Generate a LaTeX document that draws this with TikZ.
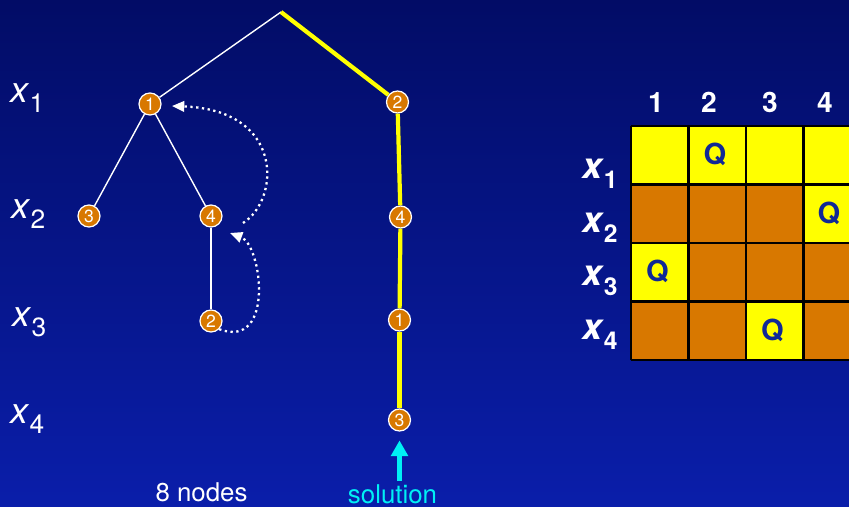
\documentclass[tikz,border=0pt]{standalone}
\usepackage{fontspec}
\setmainfont{TeX Gyre Heros}
\usepackage{tikz}
\usetikzlibrary{arrows.meta}
\definecolor{slidetop}{RGB}{2,12,102}
\definecolor{slidebot}{RGB}{10,30,170}
\definecolor{nodeorange}{RGB}{216,120,0}
\definecolor{cellyellow}{RGB}{255,255,0}
\definecolor{queenblue}{RGB}{16,40,150}
\definecolor{solcyan}{RGB}{0,240,245}
\tikzstyle{treenode}=[circle, fill=nodeorange, draw=white, line width=0.7pt, minimum size=0.44cm, inner sep=0pt, text=white, font=\fontsize{10}{10}\selectfont]
\tikzstyle{branch}=[draw=white, line width=0.8pt]
\tikzstyle{solpath}=[draw=cellyellow, line width=2.4pt]
\tikzstyle{backtrack}=[draw=white, line width=1.3pt, dotted, -{Triangle[length=7pt, width=6pt]}]
\tikzstyle{solarrow}=[draw=solcyan, line width=2.8pt, -{Triangle[length=9pt, width=9.5pt]}]
\tikzstyle{level}=[anchor=base west, inner sep=0pt, text=white, font=\fontsize{20.5}{20.5}\selectfont]
\tikzstyle{rowlab}=[anchor=base east, inner sep=0pt, text=white, font=\fontsize{20.5}{20.5}\selectfont]
\tikzstyle{collab}=[anchor=base, inner sep=0pt, text=white, font=\fontsize{16}{16}\selectfont\bfseries]
\tikzstyle{queen}=[inner sep=0pt, text=queenblue, font=\fontsize{16.5}{16.5}\selectfont\bfseries]
\tikzstyle{caption}=[anchor=base, inner sep=0pt, font=\fontsize{14.7}{14.7}\selectfont]
\newcommand{\xsub}[1]{\textit{x}\raisebox{-0.3em}{\fontsize{15}{15}\selectfont #1}}
\newcommand{\xsubb}[1]{\textbf{\textit{x}}\raisebox{-0.28em}{\fontsize{14}{14}\selectfont\bfseries #1}}

\begin{document}
\begin{tikzpicture}
	\useasboundingbox (0,0) rectangle (16.98,10.12);
	\clip (0,0) rectangle (16.98,10.12);
	\shade[top color=slidetop, bottom color=slidebot] (0,0) rectangle (16.98,10.12);

	% levels of the search tree
	\begin{scope}
		\node (l1) at (0.20, 8.08)[level] {\xsub{1}};
		\node (l2) at (0.22, 5.76)[level] {\xsub{2}};
		\node (l3) at (0.24, 3.60)[level] {\xsub{3}};
		\node (l4) at (0.20, 1.66)[level] {\xsub{4}};
	\end{scope}

	% search tree
	\begin{scope}
		\coordinate (r) at (5.62, 9.88);
		\node (a1) at (3.00, 8.04)[treenode] {1};
		\node (a2) at (7.95, 8.08)[treenode] {2};
		\node (b3) at (1.78, 5.80)[treenode] {3};
		\node (b4) at (4.22, 5.80)[treenode] {4};
		\node (c2) at (4.22, 3.70)[treenode] {2};
		\node (s4) at (8.01, 5.78)[treenode] {4};
		\node (s1) at (7.99, 3.72)[treenode] {1};
		\node (s3) at (7.99, 1.72)[treenode] {3};
		\coordinate (back4) at (4.60, 5.46);
		\coordinate (back1) at (3.44, 8.00);
	\end{scope}
	\begin{scope}
		\path [branch] (r) edge (a1);
		\path [branch] (a1) edge (b3);
		\path [branch] (a1) edge (b4);
		\path [branch] (b4) edge (c2);
		\path [solpath] (r) edge (a2);
		\path [solpath] (a2) edge (s4);
		\path [solpath] (s4) edge (s1);
		\path [solpath] (s1) edge (s3);
		% backtracking
		\draw [backtrack] (c2.south east) .. controls (5.50, 3.12) and (5.24, 5.22) .. (back4);
		\draw [backtrack] (4.86, 5.66) .. controls (5.60, 6.12) and (5.70, 7.92) .. (back1);
	\end{scope}

	\node (cnt) at (4.03, 0.10)[caption, text=white] {8 nodes};
	\node (sol) at (7.85, 0.06)[caption, text=solcyan] {solution};
	\draw [solarrow] (s3.south |- sol.north) ++(0,0.06) -- ([yshift=-5pt]s3.south);

	% board
	\begin{scope}
		\fill[nodeorange] (12.62, 2.92) rectangle (17.22, 7.60);
		\fill[cellyellow] (12.62, 6.43) rectangle (17.22, 7.60);
		\fill[cellyellow] (16.07, 5.26) rectangle (17.22, 6.43);
		\fill[cellyellow] (12.62, 4.09) rectangle (13.77, 5.26);
		\fill[cellyellow] (14.92, 2.92) rectangle (16.07, 4.09);
		\draw[black, line width=1.2pt, shift={(12.62, 2.92)}, xstep=1.15, ystep=1.17] (0,0) grid (4.61, 4.69);
		\node (q1) at (14.30, 7.03)[queen] {Q};
		\node (q2) at (16.58, 5.86)[queen] {Q};
		\node (q3) at (13.15, 4.69)[queen] {Q};
		\node (q4) at (15.45, 3.52)[queen] {Q};
		\node (h1) at (13.12, 7.87)[collab] {1};
		\node (h2) at (14.18, 7.87)[collab] {2};
		\node (h3) at (15.40, 7.87)[collab] {3};
		\node (h4) at (16.50, 7.87)[collab] {4};
		\node (g1) at (12.36, 6.56)[rowlab] {\xsubb{1}};
		\node (g2) at (12.36, 5.48)[rowlab] {\xsubb{2}};
		\node (g3) at (12.36, 4.42)[rowlab] {\xsubb{3}};
		\node (g4) at (12.36, 3.34)[rowlab] {\xsubb{4}};
	\end{scope}
\end{tikzpicture}
\end{document}
